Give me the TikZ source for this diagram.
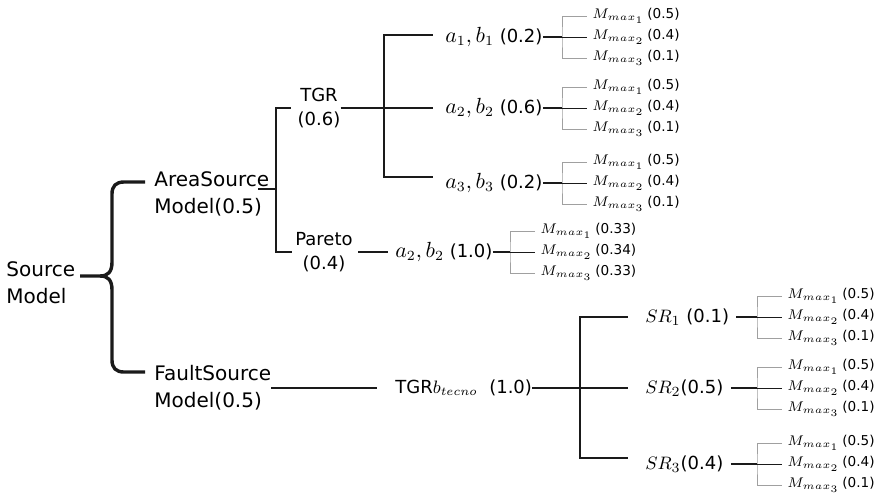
\documentclass[tikz,border=0pt]{standalone}
\usepackage[no-math]{fontspec}
\setmainfont{DejaVu Sans}
\usepackage{amsmath}
\usepackage{tikz}
\usetikzlibrary{positioning}
\definecolor{twiggray}{HTML}{a0a0a0}
\definecolor{darkline}{HTML}{1a1a1a}

\tikzset{
	modellabel/.style={inner sep=0pt, align=left, anchor=west, font=\fontsize{10}{13.5}\selectfont},
	methodlabel/.style={inner sep=0pt, align=center, font=\fontsize{9}{12}\selectfont},
	parlabel/.style={inner sep=0pt, anchor=west, font=\fontsize{9}{11}\selectfont},
	mmaxlabel/.style={inner sep=0pt, anchor=west, font=\fontsize{6.8}{8}\selectfont},
	trunk/.style={draw=darkline, line width=0.8pt},
	brace/.style={draw=darkline, line width=1.7pt},
	twig/.style={draw=twiggray, line width=0.5pt},
	midtwig/.style={draw=darkline, line width=0.45pt},
}

\newcommand{\mmax}[1]{{\fontsize{7.5}{8}\selectfont$M_{max_{#1}}$}}
\newcommand{\abpair}[1]{{\fontsize{10.5}{10.5}\selectfont$a_{#1},b_{#1}$}}
\newcommand{\srate}[1]{{\fontsize{9.5}{9.5}\selectfont$SR_{#1}$}}

% three magnitude branches hanging from one fork
\newcommand{\mmaxgroup}[6]{%
	\coordinate (#1) at (#2,#3);
	\node[mmaxlabel] (#1-1) at ({#2+30},{#3-21}) {\mmax{1}\hspace{1.5pt}(#4)};
	\node[mmaxlabel] (#1-2) at ({#2+30},{#3}) {\mmax{2}\hspace{1.5pt}(#5)};
	\node[mmaxlabel] (#1-3) at ({#2+30},{#3+21}) {\mmax{3}\hspace{1.5pt}(#6)};
	\draw[twig, shorten <=2.5pt, shorten >=2.5pt] (#1-1.west) -| (#1) |- (#1-3.west);
	\draw[midtwig, shorten >=2.5pt] (#1) -- (#1-2.west);
}

\begin{document}
\begin{tikzpicture}[x=0.5pt, y=-0.5pt]
	\useasboundingbox (0,0) rectangle (875,495);

	\node[modellabel] (src) at (6,283) {Source\\Model};
	\node[modellabel] (area) at (154,194) {AreaSource\\Model(0.5)};
	\node[modellabel] (fault) at (154,388) {FaultSource\\Model(0.5)};

	\node[methodlabel] (tgr) at (319,108) {TGR\\(0.6)};
	\node[methodlabel] (pareto) at (324,252) {Pareto\\(0.4)};

	\node[parlabel] (ab1) at (445,37) {\abpair{1} (0.2)};
	\node[parlabel] (ab2) at (445,108) {\abpair{2} (0.6)};
	\node[parlabel] (ab3) at (445,183) {\abpair{3} (0.2)};
	\node[parlabel] (ab4) at (395,252) {\abpair{2} (1.0)};
	\node[parlabel] (tgrb) at (395,388) {TGR$b_{tecno}$\ \ (1.0)};
	\node[parlabel] (sr1) at (645,317) {\srate{1} (0.1)};
	\node[parlabel] (sr2) at (645,388) {\srate{2}(0.5)};
	\node[parlabel] (sr3) at (645,464) {\srate{3}(0.4)};

	\coordinate (brtip) at (80,276);
	\coordinate (brtop) at (145,182);
	\coordinate (brbot) at (145,372);
	\coordinate (areaout) at (258,189);
	\coordinate (areafork) at (276,189);
	\coordinate (tgrfork) at (384,108);
	\coordinate (faultfork) at (580,388);

	% the brace
	\draw[brace] (brtip) -- (100,276) .. controls (108,276) and (112,272) .. (112,262) -- (112,194)
		.. controls (112,186) and (116,182) .. (124,182) -- (brtop);
	\draw[brace] (100,276) .. controls (108,276) and (112,280) .. (112,290) -- (112,360)
		.. controls (112,368) and (116,372) .. (124,372) -- (brbot);

	\draw[trunk] (areaout) -- (areafork);
	\draw[trunk, shorten >=3pt] (areafork) |- (tgr.west);
	\draw[trunk, shorten >=1.5pt] (areafork) |- (pareto.west);

	\draw[trunk] (tgr.east) -- (tgrfork);
	\draw[trunk, shorten >=6pt] (tgrfork) |- ([yshift=1pt]ab1.west);
	\draw[trunk, shorten >=6pt] (tgrfork) -- (ab2.west);
	\draw[trunk, shorten >=6pt] (tgrfork) |- ([yshift=3pt]ab3.west);
	\draw[trunk, shorten <=2.5pt, shorten >=3.5pt] (pareto.east) -- (ab4.west);

	\draw[trunk, shorten >=9pt] (fault.east) -- (tgrb.west);
	\draw[trunk] (tgrb.east) -- (faultfork);
	\draw[trunk, shorten >=8.5pt] (faultfork) |- (sr1.west);
	\draw[trunk, shorten >=8.5pt] (faultfork) -- (sr2.west);
	\draw[trunk, shorten >=8.5pt] (faultfork) |- ([yshift=3pt]sr3.west);

	\mmaxgroup{mg1}{562}{37}{0.5}{0.4}{0.1}
	\mmaxgroup{mg2}{562}{108}{0.5}{0.4}{0.1}
	\mmaxgroup{mg3}{562}{183}{0.5}{0.4}{0.1}
	\mmaxgroup{mg4}{510}{252}{0.33}{0.34}{0.33}
	\mmaxgroup{mg5}{757}{317}{0.5}{0.4}{0.1}
	\mmaxgroup{mg6}{757}{388}{0.5}{0.4}{0.1}
	\mmaxgroup{mg7}{757}{464}{0.5}{0.4}{0.1}

	\draw[trunk] (ab1.east) -- (mg1);
	\draw[trunk] (ab2.east) -- (mg2);
	\draw[trunk] (ab3.east) -- (mg3);
	\draw[trunk] (ab4.east) -- (mg4);
	\draw[trunk, shorten <=3.5pt] (sr1.east) -- (mg5);
	\draw[trunk, shorten <=3.5pt] (sr2.east) -- (mg6);
	\draw[trunk, shorten <=3.5pt] (sr3.east) -- (mg7);
\end{tikzpicture}
\end{document}
